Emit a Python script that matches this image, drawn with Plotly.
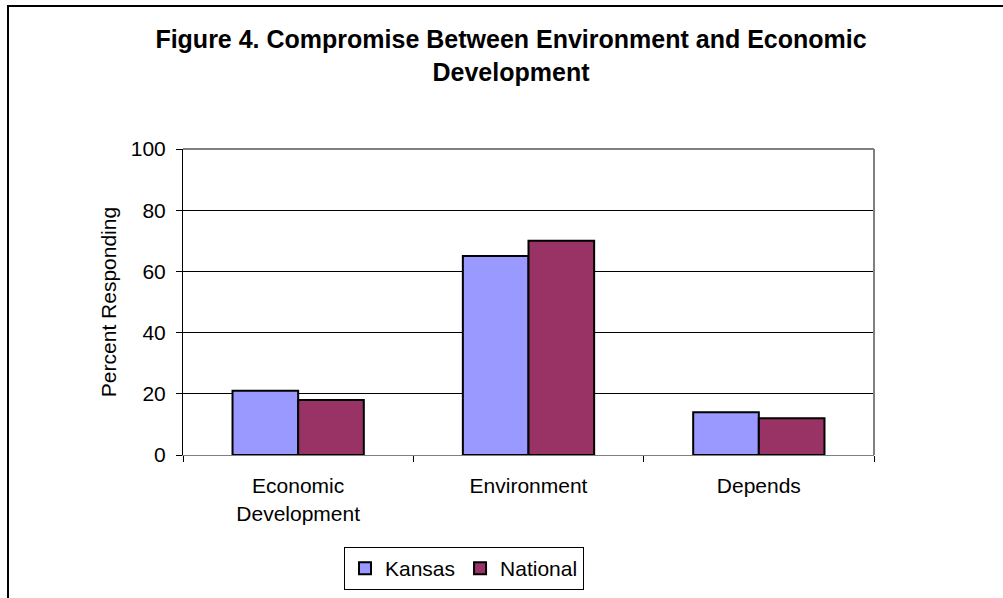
import plotly.graph_objects as go

categories = ["Economic<br>Development", "Environment", "Depends"]
kansas = [21, 65, 14]
national = [18, 70, 12]
y_ticks = [0, 20, 40, 60, 80, 100]

W, H = 1003, 598
L, R, T, B = 183, 129, 149, 143
pw, ph = W - L - R, H - T - B

def px_x(x):
    return (x - L) / pw

def px_y(y):
    return (H - B - y) / ph

font = dict(family="Liberation Sans, Arial, sans-serif", color="black")

fig = go.Figure()
fig.add_trace(go.Bar(name="Kansas", x=categories, y=kansas,
                     marker=dict(color="#9999FF", line=dict(color="black", width=2))))
fig.add_trace(go.Bar(name="National", x=categories, y=national,
                     marker=dict(color="#993366", line=dict(color="black", width=2))))

fig.update_layout(
    width=W, height=H,
    margin=dict(l=L, r=R, t=T, b=B, autoexpand=False),
    paper_bgcolor="white", plot_bgcolor="white",
    barmode="group", bargap=0.43, bargroupgap=0,
    font=dict(size=21, **font),
    title=dict(text="<b>Figure 4. Compromise Between Environment and Economic<br>Development</b>",
               x=px_x(511), xref="paper", xanchor="center",
               y=1 - 48 / H, yref="container", yanchor="top",
               font=dict(size=25, **font)),
    showlegend=True,
    legend=dict(orientation="h", x=px_x(464), xanchor="center",
                y=px_y(547), yanchor="top",
                bordercolor="black", borderwidth=1, bgcolor="white",
                font=dict(size=21, **font), itemwidth=30,
                tracegroupgap=0),
    xaxis=dict(showline=True, linecolor="#808080", linewidth=1,
               ticks="outside", ticklen=6, tickcolor="black",
               tickson="boundaries", showgrid=False,
               ticklabelstandoff=12,
               tickfont=dict(size=21, **font), mirror=False),
    yaxis=dict(range=[0, 100], tickvals=y_ticks, showline=True,
               linecolor="black", linewidth=1,
               ticks="outside", ticklen=6, tickcolor="black",
               showgrid=True, gridcolor="black", gridwidth=1,
               ticklabelstandoff=6,
               zeroline=False, tickfont=dict(size=21, **font),
               title=dict(text="Percent Responding", font=dict(size=21, **font), standoff=8)),
    shapes=[
        # plot area frame (top and right edges)
        dict(type="line", xref="paper", yref="paper", x0=0, x1=1, y0=1, y1=1,
             line=dict(color="#808080", width=2)),
        dict(type="line", xref="paper", yref="paper", x0=1, x1=1, y0=0, y1=1,
             line=dict(color="#808080", width=2)),
        # outer chart border
        dict(type="rect", xref="paper", yref="paper",
             x0=px_x(8), x1=px_x(1020), y0=px_y(6), y1=px_y(620),
             line=dict(color="black", width=2), fillcolor="rgba(0,0,0,0)", layer="above"),
    ],
)

fig.write_html("out.html")
